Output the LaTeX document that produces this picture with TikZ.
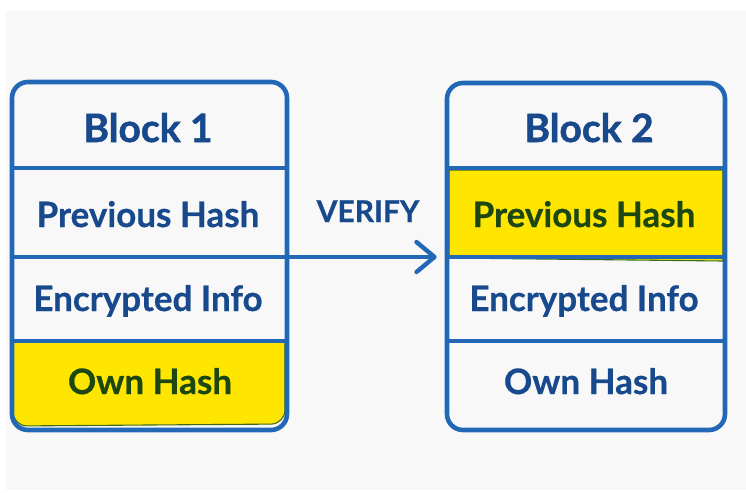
\documentclass[tikz,border=0pt]{standalone}
\usepackage{fontspec}
\setmainfont{Lato}
\newfontfamily\headfont{Lato}[BoldFeatures={FakeBold=1.4}]
\newfontfamily\fieldfont{Lato}[BoldFeatures={FakeBold=0.6}]
\usetikzlibrary{arrows.meta}
\definecolor{pagebg}{HTML}{F8F8F8}
\definecolor{edgeblue}{HTML}{2268B6}
\definecolor{inkblue}{HTML}{17498C}
\definecolor{marker}{HTML}{FFE600}
\definecolor{markeredge}{HTML}{3D6B1A}
\definecolor{inkgreen}{HTML}{1D4710}
\tikzset{
  blockbox/.style={draw=edgeblue, line width=4.6pt, rounded corners=16pt,
    inner sep=0pt, fill=none},
  divider/.style={draw=edgeblue, line width=4pt},
  title/.style={font=\headfont\fontsize{39}{39}\selectfont\bfseries, text=inkblue,
    anchor=base, inner sep=0pt},
  field/.style={font=\fieldfont\fontsize{35}{35}\selectfont\bfseries, text=inkblue,
    anchor=base, inner sep=0pt},
  hilite/.style={fill=marker, draw=markeredge, line width=1.1pt},
  link/.style={draw=edgeblue, line width=4.4pt, line cap=round,
    -{Straight Barb[length=18pt, width=30pt, line cap=round, line join=round]}},
}
\begin{document}
\begin{tikzpicture}[x=1pt, y=-1pt]
  \useasboundingbox (0,0) rectangle (746,492);
  \fill[white] (0,0) rectangle (746,492);
  \fill[pagebg] (6,11) rectangle (746,490);

  % marker highlights, laid under the outlines
  \path[hilite] (13,341) -- (285,341)
    [rounded corners=14pt] -- (285,424) -- (13,426) [sharp corners] -- cycle;
  \path[hilite] (449,170) -- (723,170) -- (723,261) -- (449,258) -- cycle;

  % block outlines
  \node[blockbox, minimum width=275pt, minimum height=348pt] (b1) at (149.5,256) {};
  \node[blockbox, minimum width=278pt, minimum height=347pt] (b2) at (586,256.5) {};

  % row separators
  \foreach \b in {b1,b2}{
    \foreach \y in {168,257,341}{
      \draw[divider] (\b.west |- 0,\y) -- (\b.east |- 0,\y);
    }
  }

  % block 1 texts
  \node[title] (t1) at (148,142) {Block 1};
  \node[field] (p1) at (148,227) {Previous Hash};
  \node[field] (e1) at (148,311) {Encrypted Info};
  \node[field, text=inkgreen] (o1) at (150,394) {Own Hash};

  % block 2 texts
  \node[title] (t2) at (589,142) {Block 2};
  \node[field, text=inkgreen] (p2) at (584,227) {Previous Hash};
  \node[field] (e2) at (584,311) {Encrypted Info};
  \node[field] (o2) at (586,394) {Own Hash};

  % verification link
  \coordinate (from) at (b1.east |- 0,257);
  \coordinate (to) at (b2.west |- 0,257);
  \draw[link, shorten >=8pt] (from) -- (to);
  \node[font=\fieldfont\fontsize{30}{30}\selectfont\bfseries, text=inkblue, anchor=base,
    inner sep=0pt] (verify) at (368,222) {VERIFY};
\end{tikzpicture}
\end{document}
